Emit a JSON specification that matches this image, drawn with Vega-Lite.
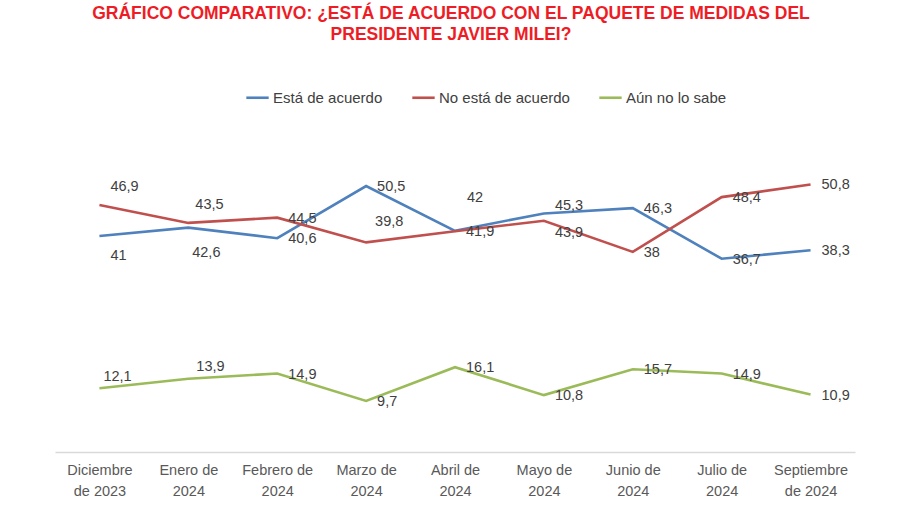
{
  "$schema": "https://vega.github.io/schema/vega-lite/v6.json",
  "width": 800,
  "height": 316,
  "autosize": {"type": "none"},
  "padding": {"left": 55, "top": 136, "right": 45, "bottom": 53},
  "background": "white",
  "title": {
    "text": ["GRÁFICO COMPARATIVO: ¿ESTÁ DE ACUERDO CON EL PAQUETE DE MEDIDAS DEL", "PRESIDENTE JAVIER MILEI?"],
    "color": "#EE1C25",
    "font": "Liberation Sans",
    "fontSize": 17.5,
    "fontWeight": "bold",
    "anchor": "middle",
    "dx": -4,
    "offset": 42,
    "lineHeight": 21
  },
  "config": {"view": {"stroke": null}, "font": "Liberation Sans"},
  "data": {
    "values": [
      {"mes": "Diciembre de 2023", "serie": "Está de acuerdo", "valor": 41},
      {"mes": "Enero de 2024", "serie": "Está de acuerdo", "valor": 42.6},
      {"mes": "Febrero de 2024", "serie": "Está de acuerdo", "valor": 40.6},
      {"mes": "Marzo de 2024", "serie": "Está de acuerdo", "valor": 50.5},
      {"mes": "Abril de 2024", "serie": "Está de acuerdo", "valor": 42},
      {"mes": "Mayo de 2024", "serie": "Está de acuerdo", "valor": 45.3},
      {"mes": "Junio de 2024", "serie": "Está de acuerdo", "valor": 46.3},
      {"mes": "Julio de 2024", "serie": "Está de acuerdo", "valor": 36.7},
      {"mes": "Septiembre de 2024", "serie": "Está de acuerdo", "valor": 38.3},
      {"mes": "Diciembre de 2023", "serie": "No está de acuerdo", "valor": 46.9},
      {"mes": "Enero de 2024", "serie": "No está de acuerdo", "valor": 43.5},
      {"mes": "Febrero de 2024", "serie": "No está de acuerdo", "valor": 44.5},
      {"mes": "Marzo de 2024", "serie": "No está de acuerdo", "valor": 39.8},
      {"mes": "Abril de 2024", "serie": "No está de acuerdo", "valor": 41.9},
      {"mes": "Mayo de 2024", "serie": "No está de acuerdo", "valor": 43.9},
      {"mes": "Junio de 2024", "serie": "No está de acuerdo", "valor": 38},
      {"mes": "Julio de 2024", "serie": "No está de acuerdo", "valor": 48.4},
      {"mes": "Septiembre de 2024", "serie": "No está de acuerdo", "valor": 50.8},
      {"mes": "Diciembre de 2023", "serie": "Aún no lo sabe", "valor": 12.1},
      {"mes": "Enero de 2024", "serie": "Aún no lo sabe", "valor": 13.9},
      {"mes": "Febrero de 2024", "serie": "Aún no lo sabe", "valor": 14.9},
      {"mes": "Marzo de 2024", "serie": "Aún no lo sabe", "valor": 9.7},
      {"mes": "Abril de 2024", "serie": "Aún no lo sabe", "valor": 16.1},
      {"mes": "Mayo de 2024", "serie": "Aún no lo sabe", "valor": 10.8},
      {"mes": "Junio de 2024", "serie": "Aún no lo sabe", "valor": 15.7},
      {"mes": "Julio de 2024", "serie": "Aún no lo sabe", "valor": 14.9},
      {"mes": "Septiembre de 2024", "serie": "Aún no lo sabe", "valor": 10.9}
    ]
  },
  "transform": [
    {"calculate": "replace(toString(datum.valor), '.', ',')", "as": "lbl"},
    {"calculate": "datum.serie + '|' + datum.mes", "as": "key"}
  ],
  "encoding": {
    "x": {
      "field": "mes",
      "type": "ordinal",
      "sort": ["Diciembre de 2023", "Enero de 2024", "Febrero de 2024", "Marzo de 2024", "Abril de 2024", "Mayo de 2024", "Junio de 2024", "Julio de 2024", "Septiembre de 2024"],
      "axis": {
        "title": null,
        "labelAngle": 0,
        "domainColor": "#D9D9D9",
        "domainWidth": 1.5,
        "ticks": false,
        "grid": false,
        "labelFontSize": 14.5,
        "labelColor": "#595959",
        "labelPadding": 11.5,
        "labelLineHeight": 21,
        "labelExpr": "indexof(datum.label, 'mbre') > 0 ? [slice(datum.label, 0, indexof(datum.label, ' ')), slice(datum.label, indexof(datum.label, ' ') + 1)] : [slice(datum.label, 0, -5), slice(datum.label, -4)]"
      }
    },
    "y": {"field": "valor", "type": "quantitative", "scale": {"domain": [0, 60]}, "axis": null}
  },
  "layer": [
    {
      "mark": {"type": "line", "strokeWidth": 2.6},
      "encoding": {
        "color": {
          "field": "serie",
          "type": "nominal",
          "scale": {"domain": ["Está de acuerdo", "No está de acuerdo", "Aún no lo sabe"], "range": ["#4F81BD", "#C0504D", "#9BBB59"]},
          "legend": {
            "orient": "none",
            "legendX": 190,
            "legendY": -51,
            "direction": "horizontal",
            "title": null,
            "symbolType": "stroke",
            "symbolStrokeWidth": 2.6,
            "symbolSize": 500,
            "labelFontSize": 15,
            "labelColor": "#404040",
            "columnPadding": 24,
            "labelOffset": 3
          }
        }
      }
    },
    {
      "transform": [{"filter": "indexof(['Está de acuerdo|Diciembre de 2023','Está de acuerdo|Enero de 2024','Está de acuerdo|Abril de 2024','Está de acuerdo|Mayo de 2024','No está de acuerdo|Diciembre de 2023','No está de acuerdo|Enero de 2024','No está de acuerdo|Marzo de 2024','No está de acuerdo|Mayo de 2024','Aún no lo sabe|Diciembre de 2023','Aún no lo sabe|Enero de 2024'], datum.key) < 0"}],
      "mark": {"type": "text", "align": "left", "dx": 11, "dy": 1, "fontSize": 14.5, "color": "#404040"},
      "encoding": {"text": {"field": "lbl"}}
    },
    {
      "transform": [{"filter": "datum.key == 'Está de acuerdo|Diciembre de 2023'"}],
      "mark": {"type": "text", "align": "left", "dx": 11, "dy": 20, "fontSize": 14.5, "color": "#404040"},
      "encoding": {"text": {"field": "lbl"}}
    },
    {
      "transform": [{"filter": "datum.key == 'Está de acuerdo|Enero de 2024'"}],
      "mark": {"type": "text", "align": "center", "dx": 18, "dy": 25, "fontSize": 14.5, "color": "#404040"},
      "encoding": {"text": {"field": "lbl"}}
    },
    {
      "transform": [{"filter": "datum.key == 'Está de acuerdo|Abril de 2024'"}],
      "mark": {"type": "text", "align": "left", "dx": 12, "dy": -33, "fontSize": 14.5, "color": "#404040"},
      "encoding": {"text": {"field": "lbl"}}
    },
    {
      "transform": [{"filter": "datum.key == 'Está de acuerdo|Mayo de 2024'"}],
      "mark": {"type": "text", "align": "left", "dx": 11, "dy": -7, "fontSize": 14.5, "color": "#404040"},
      "encoding": {"text": {"field": "lbl"}}
    },
    {
      "transform": [{"filter": "datum.key == 'No está de acuerdo|Diciembre de 2023'"}],
      "mark": {"type": "text", "align": "left", "dx": 11, "dy": -18, "fontSize": 14.5, "color": "#404040"},
      "encoding": {"text": {"field": "lbl"}}
    },
    {
      "transform": [{"filter": "datum.key == 'No está de acuerdo|Enero de 2024'"}],
      "mark": {"type": "text", "align": "left", "dx": 7, "dy": -18, "fontSize": 14.5, "color": "#404040"},
      "encoding": {"text": {"field": "lbl"}}
    },
    {
      "transform": [{"filter": "datum.key == 'No está de acuerdo|Marzo de 2024'"}],
      "mark": {"type": "text", "align": "left", "dx": 9, "dy": -20, "fontSize": 14.5, "color": "#404040"},
      "encoding": {"text": {"field": "lbl"}}
    },
    {
      "transform": [{"filter": "datum.key == 'No está de acuerdo|Mayo de 2024'"}],
      "mark": {"type": "text", "align": "left", "dx": 11, "dy": 12, "fontSize": 14.5, "color": "#404040"},
      "encoding": {"text": {"field": "lbl"}}
    },
    {
      "transform": [{"filter": "datum.key == 'Aún no lo sabe|Diciembre de 2023'"}],
      "mark": {"type": "text", "align": "left", "dx": 4, "dy": -11, "fontSize": 14.5, "color": "#404040"},
      "encoding": {"text": {"field": "lbl"}}
    },
    {
      "transform": [{"filter": "datum.key == 'Aún no lo sabe|Enero de 2024'"}],
      "mark": {"type": "text", "align": "left", "dx": 8, "dy": -12, "fontSize": 14.5, "color": "#404040"},
      "encoding": {"text": {"field": "lbl"}}
    }
  ]
}
